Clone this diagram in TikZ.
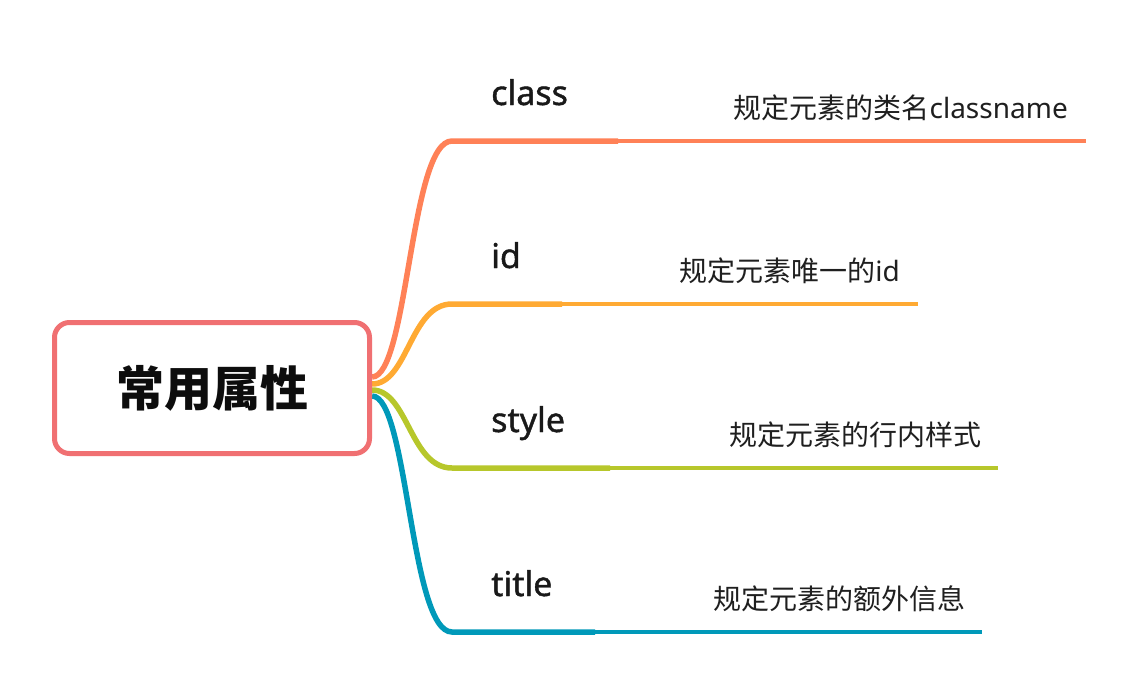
\documentclass[tikz,border=0pt]{standalone}
\usepackage{fontspec}
\setmainfont{Noto Sans}
\newfontfamily\cjk{Noto Sans CJK SC}
\newfontfamily\labelfont[FakeBold=1.2]{Noto Sans}
\definecolor{rootc}{HTML}{F07072}
\definecolor{classc}{HTML}{FF8157}
\definecolor{idc}{HTML}{FFAA33}
\definecolor{stylec}{HTML}{B7C72B}
\definecolor{titlec}{HTML}{0099B9}
\tikzset{
  rootbox/.style={draw=rootc, line width=5pt, rounded corners=15pt, fill=white,
    minimum width=315pt, minimum height=131pt, inner sep=0pt,
    font=\cjk\bfseries\fontsize{48}{48}\selectfont, text=black!95},
  branchlabel/.style={anchor=base west, inner sep=0pt, text=black!90,
    font=\labelfont\fontsize{34}{34}\selectfont},
  desclabel/.style={anchor=base east, inner sep=0pt, text=black!88,
    font=\fontsize{28}{28}\selectfont},
  thickbranch/.style={line width=5.5pt, line cap=butt},
  thinbranch/.style={line width=3.2pt, line cap=butt},
}
\begin{document}
\begin{tikzpicture}[x=1pt,y=-1pt]
\useasboundingbox[fill=white] (0,0) rectangle (1136,686);

% branch coordinates
\coordinate (c0) at (372,377); \coordinate (c1) at (452,141); \coordinate (c2) at (618,141); \coordinate (c3) at (1086,141);
\coordinate (i0) at (372,384); \coordinate (i1) at (452,304); \coordinate (i2) at (562,304); \coordinate (i3) at (918,304);
\coordinate (s0) at (372,390); \coordinate (s1) at (452,468); \coordinate (s2) at (610,468); \coordinate (s3) at (998,468);
\coordinate (t0) at (372,396); \coordinate (t1) at (452,632); \coordinate (t2) at (595,632); \coordinate (t3) at (982,632);

% branches
\draw[classc, thickbranch] (c0) .. controls (408,377) and (410,141) .. (c1) -- (c2);
\draw[classc, thinbranch] (c2) -- (c3);
\draw[idc, thickbranch] (i0) .. controls (408,384) and (410,304) .. (i1) -- (i2);
\draw[idc, thinbranch] (i2) -- (i3);
\draw[stylec, thickbranch] (s0) .. controls (408,390) and (410,468) .. (s1) -- (s2);
\draw[stylec, thinbranch] (s2) -- (s3);
\draw[titlec, thickbranch] (t0) .. controls (408,396) and (410,632) .. (t1) -- (t2);
\draw[titlec, thinbranch] (t2) -- (t3);

% root
\node[rootbox] (root) at (212,388) {常用属性};

% labels
\node[branchlabel] (lclass) at (491,105) {class};
\node[branchlabel] (lid) at (491,268) {id};
\node[branchlabel] (lstyle) at (491,432) {style};
\node[branchlabel] (ltitle) at (491,596) {title};

% descriptions
\node[desclabel] (dclass) at (1068,118) {{\cjk 规定元素的类名}classname};
\node[desclabel] (did) at (900,281) {{\cjk 规定元素唯一的}id};
\node[desclabel] (dstyle) at (982,445) {\cjk 规定元素的行内样式};
\node[desclabel] (dtitle) at (966,609) {\cjk 规定元素的额外信息};
\end{tikzpicture}
\end{document}
